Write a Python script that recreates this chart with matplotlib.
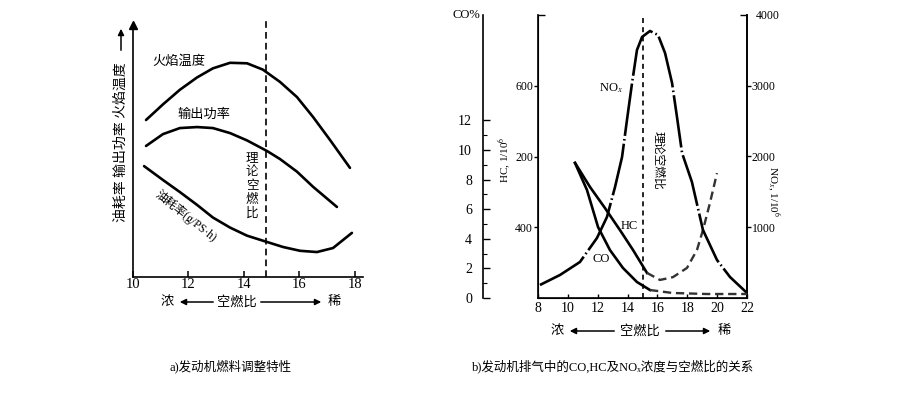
import matplotlib
matplotlib.use("Agg")
import matplotlib.pyplot as plt

plt.rcParams["font.family"] = ["Liberation Serif", "Noto Sans CJK SC", "DejaVu Serif"]
plt.rcParams["mathtext.fontset"] = "stix"

# --- panel a: relative values (0 = x axis, 100 = arrow tip)
flame_x = [10.47, 11.08, 11.69, 12.31, 12.88, 13.50, 14.11, 14.68, 15.30, 15.91, 16.49, 17.10, 17.82]
flame_y = [62.3, 68.5, 74.3, 79.2, 82.8, 85.0, 84.8, 82.3, 77.4, 71.4, 63.5, 54.4, 43.3]
power_x = [10.47, 11.08, 11.69, 12.31, 12.88, 13.50, 14.11, 14.83, 15.30, 15.91, 16.49, 17.35]
power_y = [52.0, 56.7, 59.1, 59.5, 59.1, 57.1, 54.2, 50.0, 46.8, 41.8, 35.8, 27.8]
fuel_x = [10.40, 11.08, 11.69, 12.31, 12.88, 13.50, 14.11, 14.83, 15.41, 16.02, 16.63, 17.21, 17.89]
fuel_y = [44.0, 38.5, 33.7, 28.6, 23.6, 19.6, 16.4, 13.9, 11.9, 10.4, 9.9, 11.5, 17.5]
stoich_a = 14.8
ticks_a = [10, 12, 14, 16, 18]

# --- panel b: NOx (1/10^6), HC (1/10^6), CO (%)
nox_x = [8.13, 9.47, 10.81, 11.95, 12.62, 13.16, 13.63, 13.96, 14.30, 14.63, 14.97, 15.50,
         16.04, 16.51, 16.98, 17.31, 17.65, 18.31, 19.05, 19.99, 20.86, 22.00]
nox_ppm = [184, 325, 509, 848, 1145, 1569, 1993, 2516, 3039, 3505, 3689, 3774,
           3717, 3463, 3039, 2558, 2049, 1640, 961, 537, 297, 71]
hc_x = [10.48, 11.48, 12.49, 13.49, 14.36, 15.30]
hc_ppm = [382, 314, 254, 192, 136, 71]
hc_lean_x = [15.30, 16.17, 17.04, 17.98, 18.65, 19.05, 19.52, 19.99]
hc_lean_ppm = [71, 51, 59, 85, 136, 192, 269, 353]
co_x = [10.48, 11.28, 12.02, 12.82, 13.69, 14.63, 15.50]
co_pct = [9.12, 7.30, 4.80, 3.24, 2.03, 1.08, 0.54]
co_lean_x = [15.50, 17.0, 19.3, 22.0]
co_lean_pct = [0.54, 0.34, 0.27, 0.27]
stoich_b = 15.0
ticks_b = [8, 10, 12, 14, 16, 18, 20, 22]
co_ticks = [0, 2, 4, 6, 8, 10, 12]
hc_tick_pos = [200, 400, 600]
hc_tick_labels = ["400", "200", "600"]   # as printed in the scan
nox_ticks = [1000, 2000, 3000]

W, H = 900, 398
LW = 1.9


def fx(px):
    return px / W


def fy(py):
    return 1 - py / H


def arrow(x0, x1, y0, y1):
    fig.add_artist(plt.matplotlib.patches.FancyArrowPatch(
        (fx(x0), fy(y0)), (fx(x1), fy(y1)), transform=fig.transFigure,
        arrowstyle="-|>", color="black", lw=1.1, mutation_scale=9))


fig = plt.figure(figsize=(9, 3.98), dpi=100)

# ---------------- panel a ----------------
ax = fig.add_axes([fx(133), fy(277), 230 / W, 252 / H])
ax.set_xlim(10, 18.29)
ax.set_ylim(0, 100)
for s in ("top", "right"):
    ax.spines[s].set_visible(False)
for s in ("left", "bottom"):
    ax.spines[s].set_linewidth(1.2)
ax.set_yticks([])
ax.set_xticks(ticks_a)
ax.tick_params(axis="x", direction="in", length=4, width=1.1, labelsize=10.5, pad=1)
ax.plot([0], [1], marker="^", color="black", markersize=6, transform=ax.transAxes, clip_on=False)

ax.plot(flame_x, flame_y, color="black", lw=LW, solid_capstyle="round", solid_joinstyle="round")
ax.plot(power_x, power_y, color="black", lw=LW, solid_capstyle="round", solid_joinstyle="round")
ax.plot(fuel_x, fuel_y, color="black", lw=LW, solid_capstyle="round", solid_joinstyle="round")
ax.axvline(stoich_a, ymin=0, ymax=1.02, color="black", lw=1.2, ls=(0, (4, 2.5)), clip_on=False)

fig.text(fx(179), fy(62), "火焰温度", ha="center", va="center", fontsize=9.5)
fig.text(fx(204), fy(115), "输出功率", ha="center", va="center", fontsize=9.5)
fig.text(fx(186), fy(216), "油耗率(g/PS·h)", ha="center", va="center", fontsize=8.5, rotation=-38.5)
for i, ch in enumerate("理论空燃比"):
    fig.text(fx(252), fy(158 + i * 14), ch, ha="center", va="center", fontsize=9)
fig.text(fx(121), fy(142), "油耗率 输出功率 火焰温度", ha="center", va="center",
         fontsize=10, rotation=90)
arrow(121, 121, 53, 26)

fig.text(fx(167), fy(302), "浓", ha="center", va="center", fontsize=9.5)
fig.text(fx(237), fy(302), "空燃比", ha="center", va="center", fontsize=9.5)
fig.text(fx(334), fy(302), "稀", ha="center", va="center", fontsize=9.5)
arrow(216, 177, 302, 302)
arrow(258, 324, 302, 302)
fig.text(fx(231), fy(366), "a)发动机燃料调整特性", ha="center", va="center", fontsize=9)

# ---------------- panel b ----------------
bx = fig.add_axes([fx(538), fy(298), 209 / W, 283 / H])
bx.set_xlim(8, 22)
bx.set_ylim(0, 800)
bx.spines["top"].set_visible(False)
for s in ("left", "right", "bottom"):
    bx.spines[s].set_linewidth(1.2)
bx.set_xticks(ticks_b)
bx.tick_params(axis="x", direction="in", length=3, width=1.0, labelsize=10, pad=3)
bx.set_yticks(hc_tick_pos, hc_tick_labels)
bx.set_yticks([800], minor=True)
bx.tick_params(axis="y", which="major", direction="out", length=3, width=1.0, labelsize=8.5, pad=0.5)
bx.tick_params(axis="y", which="minor", direction="in", length=5, width=1.0)

nx = bx.twinx()
nx.set_ylim(0, 4000)
nx.spines["top"].set_visible(False)
nx.spines["right"].set_linewidth(1.2)
nx.set_yticks(nox_ticks)
nx.set_yticks([4000], ["4000"], minor=True)
nx.tick_params(axis="y", which="major", direction="out", length=3, width=1.0, labelsize=8.5, pad=0.5)
nx.tick_params(axis="y", which="minor", direction="in", length=5, width=1.0, labelsize=8.5, pad=6)

cx = bx.twinx()
cx.set_ylim(0, 283 / 14.8)
for s in ("top", "right", "bottom"):
    cx.spines[s].set_visible(False)
cx.spines["left"].set_visible(True)
cx.spines["left"].set_linewidth(1.2)
cx.spines["left"].set_position(("axes", -(538 - 483) / 209))
cx.yaxis.set_ticks_position("left")
cx.set_yticks(co_ticks)
cx.set_yticks(range(1, 13), minor=True)
cx.tick_params(axis="y", which="major", direction="in", length=5, width=1.0, labelsize=10, pad=8)
cx.tick_params(axis="y", which="minor", direction="in", length=3, width=0.8)

nx.plot(nox_x, nox_ppm, color="black", lw=LW, ls=(0, (20, 1.2, 0.6, 1.2)))
bx.plot(hc_x, hc_ppm, color="black", lw=LW, solid_joinstyle="round")
bx.plot(hc_lean_x, hc_lean_ppm, color="#333333", lw=LW * 0.9, ls=(0, (3.5, 2)))
cx.plot(co_x, co_pct, color="black", lw=LW, solid_joinstyle="round")
cx.plot(co_lean_x, co_lean_pct, color="#333333", lw=LW * 0.9, ls=(0, (3.5, 2)))
bx.axvline(stoich_b, color="black", lw=1.2, ls=(0, (3, 2.5)))

fig.text(fx(466), fy(15), "CO%", ha="center", va="center", fontsize=9)
fig.text(fx(505), fy(160), "HC, 1/10$^6$", ha="center", va="center", fontsize=8, rotation=90)
fig.text(fx(773), fy(192), "NO$_x$, 1/10$^6$", ha="center", va="center", fontsize=8, rotation=-90)
fig.text(fx(611), fy(88), "NO$_x$", ha="center", va="center", fontsize=9)
fig.text(fx(629), fy(226), "HC", ha="center", va="center", fontsize=9)
fig.text(fx(601), fy(259), "CO", ha="center", va="center", fontsize=9)
fig.text(fx(658), fy(160), "理论空燃比", ha="center", va="center", fontsize=8.5, rotation=-90)

fig.text(fx(557), fy(331), "浓", ha="center", va="center", fontsize=9.5)
fig.text(fx(640), fy(331), "空燃比", ha="center", va="center", fontsize=9.5)
fig.text(fx(724), fy(331), "稀", ha="center", va="center", fontsize=9.5)
arrow(617, 567, 331, 331)
arrow(663, 713, 331, 331)
fig.text(fx(613), fy(366), "b)发动机排气中的CO,HC及NOₓ浓度与空燃比的关系",
         ha="center", va="center", fontsize=9)

fig.savefig("out.png", dpi=100, facecolor="white")
